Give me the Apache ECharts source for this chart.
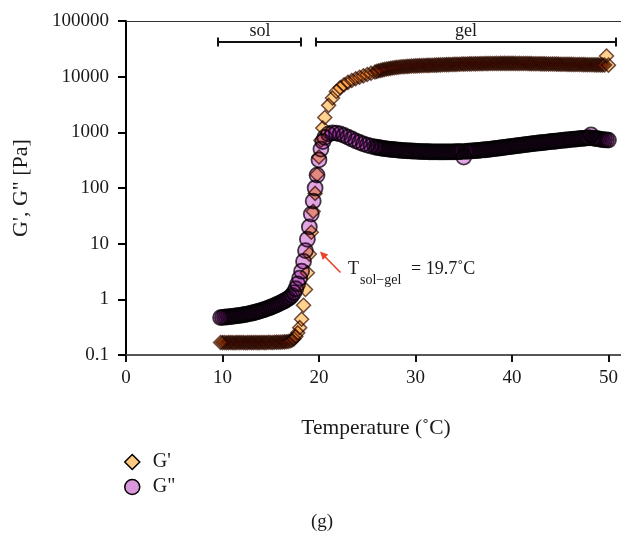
<!DOCTYPE html>
<html>
<head>
<meta charset="utf-8">
<script src="https://cdn.jsdelivr.net/npm/echarts@6/dist/echarts.min.js"></script>
<style>
html,body{margin:0;padding:0;background:#fff;}
#main{width:621px;height:535px;}
</style>
</head>
<body>
<div id="main"></div>
<script>
// ---- data ----
const temperature = [
9.8,10.0,10.2,10.4,10.6,10.8,11.0,11.2,11.4,11.6,
11.8,12.0,12.2,12.4,12.6,12.8,13.0,13.2,13.4,13.6,
13.8,14.0,14.2,14.4,14.6,14.8,15.0,15.2,15.4,15.6,
15.8,16.0,16.2,16.4,16.6,16.8,17.0,17.2,17.4,17.6,
17.8,18.0,18.2,18.4,18.6,18.8,19.0,19.2,19.4,19.6,
19.8,20.0,20.2,20.4,20.6,21.0,21.4,21.8,22.2,22.6,
23.0,23.4,23.8,24.2,24.6,25.0,25.4,
25.8,26.0,26.2,26.4,26.6,26.8,27.0,27.2,27.4,27.6,
27.8,28.0,28.2,28.4,28.6,28.8,29.0,29.2,29.4,29.6,
29.8,30.0,30.2,30.4,30.6,30.8,31.0,31.2,31.4,31.6,
31.8,32.0,32.2,32.4,32.6,32.8,33.0,33.2,33.4,33.6,
33.8,34.0,34.2,34.4,34.6,34.8,35.0,35.2,35.4,35.6,
35.8,36.0,36.2,36.4,36.6,36.8,37.0,37.2,37.4,37.6,
37.8,38.0,38.2,38.4,38.6,38.8,39.0,39.2,39.4,39.6,
39.8,40.0,40.2,40.4,40.6,40.8,41.0,41.2,41.4,41.6,
41.8,42.0,42.2,42.4,42.6,42.8,43.0,43.2,43.4,43.6,
43.8,44.0,44.2,44.4,44.6,44.8,45.0,45.2,45.4,45.6,
45.8,46.0,46.2,46.4,46.6,46.8,47.0,47.2,47.4,47.6,
47.8,48.0,48.2,48.4,48.6,48.8,49.0,49.2,49.4,49.6,
49.8,50.0
];

// storage modulus G' [Pa]
const gPrime = [
0.168,0.167,0.168,0.166,0.167,0.168,0.167,0.166,0.167,0.168,
0.167,0.168,0.167,0.166,0.167,0.168,0.167,0.167,0.168,0.167,
0.167,0.168,0.168,0.167,0.168,0.169,0.168,0.168,0.169,0.170,
0.170,0.170,0.171,0.172,0.173,0.175,0.178,0.184,0.195,0.215,
0.25,0.31,0.44,0.78,1.5,3.0,6.5,16,38,80,
175,360,720,1200,1850,3050,4150,5400,6350,7150,
7900,8550,9150,9750,10350,10950,11550,
12150,12450,12750,13000,13250,13500,13700,13900,14100,14300,
14450,14650,14750,14900,15050,15100,15250,15300,15400,15550,
15550,15650,15650,15750,15750,15850,15850,15950,15950,16050,
16050,16150,16150,16250,16250,16350,16350,16450,16450,16550,
16550,16650,16650,16750,16750,16850,16800,16900,16900,17000,
16950,17050,17000,17100,17050,17150,17100,17200,17150,17250,
17200,17250,17250,17300,17250,17350,17300,17350,17300,17350,
17300,17350,17300,17300,17250,17300,17200,17250,17200,17200,
17150,17150,17100,17100,17050,17050,17000,17000,16950,16950,
16900,16900,16850,16850,16800,16800,16750,16750,16700,16700,
16650,16650,16600,16600,16550,16550,16500,16500,16450,16450,
16400,16400,16350,16350,16300,16300,16250,16250,16200,16200,
23500,16100
];

// loss modulus G'' [Pa]
const gDoublePrime = [
0.470,0.474,0.478,0.482,0.486,0.490,0.494,0.499,0.504,0.509,
0.514,0.521,0.528,0.536,0.544,0.553,0.563,0.574,0.586,0.599,
0.613,0.628,0.644,0.661,0.680,0.700,0.722,0.746,0.772,0.800,
0.830,0.862,0.897,0.935,0.977,1.03,1.09,1.18,1.32,1.55,
1.9,2.4,3.2,4.8,7.5,12,20,34,58,100,
170,320,500,680,810,935,975,970,935,880,
820,760,705,660,620,590,566,
545,537,530,523,517,511,506,501,496,492,
488,484,480,477,474,471,468,466,464,462,
460,458,456,454,452,451,450,449,448,447,
446,445,445,444,444,444,444,444,445,445,
446,447,448,449,450,452,360,456,458,460,
463,466,469,472,475,479,483,487,491,495,
499,504,509,514,519,524,530,536,542,548,
554,560,566,572,578,584,590,596,602,608,
614,620,626,632,638,644,650,656,662,668,
674,680,686,692,698,704,710,716,722,728,
734,740,746,752,758,764,770,776,782,788,
794,800,900,790,780,770,760,750,740,735,
730,725
];

const xTicks = [0, 10, 20, 30, 40, 50];
const yTicks = [0.1, 1, 10, 100, 1000, 10000, 100000];
const seriesNames = ["G'", "G\""];

// ---- chart ----
const serif = '"Liberation Serif", "DejaVu Serif", serif';
const chart = echarts.init(document.getElementById('main'), null, {renderer: 'canvas'});

const gpData = temperature.map((t, i) => [t, gPrime[i]]);
const gppData = temperature.map((t, i) => [t, gDoublePrime[i]]);

const option = {
  backgroundColor: '#ffffff',
  animation: false,
  grid: {left: 126, right: 0, top: 21, bottom: 180, containLabel: false},
  xAxis: [{
    type: 'value',
    min: 0,
    max: 51.3,
    interval: 10,
    name: 'Temperature (˚C)',
    nameLocation: 'middle',
    nameGap: 62,
    nameTextStyle: {fontFamily: serif, fontSize: 21.5, color: '#1a1a1a', padding: [0, 0, 0, 5]},
    axisLine: {show: true, lineStyle: {color: '#555', width: 2}},
    axisTick: {show: true, length: 7, lineStyle: {color: '#111', width: 2}, customValues: xTicks},
    axisLabel: {fontFamily: serif, fontSize: 19, color: '#1a1a1a', margin: 14, customValues: xTicks,
      formatter: v => String(v)},
    splitLine: {show: false}
  }, {
    type: 'value',
    position: 'top',
    min: 0,
    max: 51.3,
    axisLine: {show: true, lineStyle: {color: '#333', width: 1}},
    axisTick: {show: false},
    axisLabel: {show: false},
    splitLine: {show: false}
  }],
  yAxis: {
    type: 'log',
    logBase: 10,
    min: 0.1,
    max: 100000,
    name: 'G\', G" [Pa]',
    nameLocation: 'middle',
    nameRotate: 90,
    nameGap: 94,
    nameTextStyle: {fontFamily: serif, fontSize: 22, color: '#1a1a1a'},
    axisLine: {show: true, lineStyle: {color: '#000', width: 2}},
    axisTick: {show: true, length: 8, lineStyle: {color: '#000', width: 2}},
    axisLabel: {fontFamily: serif, fontSize: 19, color: '#1a1a1a', margin: 17,
      formatter: v => {
        const m = yTicks.find(t => Math.abs(Math.log10(t) - Math.log10(v)) < 1e-6);
        return m === undefined ? '' : String(m);
      }},
    splitLine: {show: false},
    minorTick: {show: false}
  },
  legend: {
    orient: 'vertical',
    left: 124,
    top: 452,
    padding: 0,
    itemWidth: 15,
    itemHeight: 15,
    itemGap: 5,
    textStyle: {fontFamily: serif, fontSize: 20, color: '#1a1a1a', padding: [0, 0, 0, 8]},
    data: [
      {name: seriesNames[0], icon: 'diamond',
        itemStyle: {color: '#FFC97F', borderColor: '#000', borderWidth: 1.5, opacity: 1}},
      {name: seriesNames[1], icon: 'circle',
        itemStyle: {color: '#DA97DC', borderColor: '#000', borderWidth: 1.5, opacity: 1}}
    ]
  },
  series: [
    {
      name: seriesNames[1],
      type: 'scatter',
      symbol: 'circle',
      symbolSize: 15,
      blendMode: 'multiply',
      itemStyle: {color: 'rgb(222,150,224)', borderColor: 'rgba(15,0,15,0.9)', borderWidth: 1.8, opacity: 0.85},
      data: gppData,
      z: 2
    },
    {
      name: seriesNames[0],
      type: 'scatter',
      symbol: 'diamond',
      symbolSize: 14,
      blendMode: 'multiply',
      itemStyle: {color: 'rgb(255,205,130)', borderColor: 'rgba(60,12,0,0.8)', borderWidth: 1.5, opacity: 0.9},
      data: gpData,
      z: 3
    }
  ],
  graphic: [
    // sol bracket
    {type: 'line', shape: {x1: 218, y1: 42, x2: 301, y2: 42}, style: {stroke: '#111', lineWidth: 2}},
    {type: 'line', shape: {x1: 218, y1: 37.5, x2: 218, y2: 46.5}, style: {stroke: '#111', lineWidth: 2}},
    {type: 'line', shape: {x1: 301, y1: 37.5, x2: 301, y2: 46.5}, style: {stroke: '#111', lineWidth: 2}},
    {type: 'text', x: 260, y: 31, style: {text: 'sol', fontFamily: serif, fontSize: 18, fill: '#1a1a1a', align: 'center', verticalAlign: 'middle'}},
    // gel bracket
    {type: 'line', shape: {x1: 316, y1: 42, x2: 616, y2: 42}, style: {stroke: '#111', lineWidth: 2}},
    {type: 'line', shape: {x1: 316, y1: 37.5, x2: 316, y2: 46.5}, style: {stroke: '#111', lineWidth: 2}},
    {type: 'line', shape: {x1: 616, y1: 37.5, x2: 616, y2: 46.5}, style: {stroke: '#111', lineWidth: 2}},
    {type: 'text', x: 466, y: 31, style: {text: 'gel', fontFamily: serif, fontSize: 18, fill: '#1a1a1a', align: 'center', verticalAlign: 'middle'}},
    // arrow
    {type: 'line', shape: {x1: 340.5, y1: 272.5, x2: 325, y2: 256.8}, style: {stroke: '#E8432B', lineWidth: 1.6}},
    {type: 'polygon', shape: {points: [[320, 251.5], [328.2, 254.6], [322.8, 259.9]]}, style: {fill: '#E8432B'}},
    // annotation text
    {type: 'text', x: 348, y: 269, style: {text: 'T', fontFamily: serif, fontSize: 18, fill: '#1a1a1a', align: 'left', verticalAlign: 'middle'}},
    {type: 'text', x: 360, y: 280, style: {text: 'sol−gel', fontFamily: serif, fontSize: 14, fill: '#1a1a1a', align: 'left', verticalAlign: 'middle'}},
    {type: 'text', x: 411, y: 269, style: {text: '= 19.7˚C', fontFamily: serif, fontSize: 18, fill: '#1a1a1a', align: 'left', verticalAlign: 'middle'}},
    // panel label
    {type: 'text', x: 322, y: 522, style: {text: '(g)', fontFamily: serif, fontSize: 19, fill: '#1a1a1a', align: 'center', verticalAlign: 'middle'}}
  ]
};
chart.setOption(option);
</script>
</body>
</html>
